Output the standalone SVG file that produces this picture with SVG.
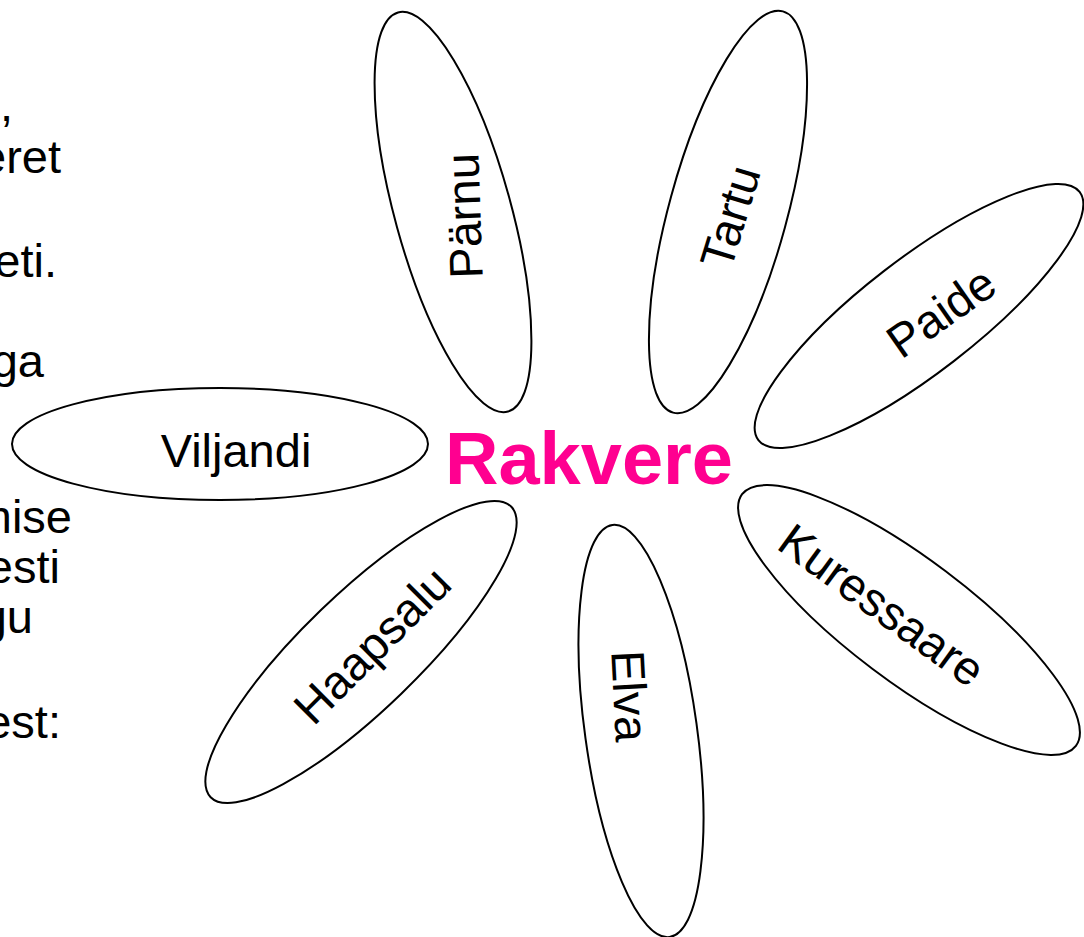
<svg xmlns="http://www.w3.org/2000/svg" width="1084" height="937" viewBox="0 0 1084 937">
<style>
  .petal { fill: #ffffff; stroke: #000000; stroke-width: 2; }
  .lbl { font-family: "Liberation Sans", Arial, sans-serif; font-size: 47px; fill: #000000; text-anchor: middle; }
  .side { font-family: "Liberation Sans", Arial, sans-serif; font-size: 47px; fill: #000000; text-anchor: end; }
  .center { font-family: "Liberation Sans", Arial, sans-serif; font-size: 74px; font-weight: bold; fill: #FF0090; text-anchor: middle; }
</style>
<rect x="0" y="0" width="1084" height="937" fill="#ffffff"/>

<g id="side-text">
  <text class="side" x="13" y="121">,</text>
  <text class="side" x="61" y="173">eret</text>
  <text class="side" x="57" y="277">eti.</text>
  <text class="side" x="44" y="377">ga</text>
  <text class="side" x="72" y="533">mise</text>
  <text class="side" x="60" y="583">esti</text>
  <text class="side" x="33" y="633">gu</text>
  <text class="side" x="61" y="738">est:</text>
</g>

<g id="node-parnu">
  <ellipse class="petal" cx="453" cy="212" rx="58" ry="207" transform="rotate(-15.4 453 212)"/>
  <text class="lbl" transform="translate(464 216) rotate(-92)" x="0" y="16.5">Pärnu</text>
</g>

<g id="node-tartu">
  <ellipse class="petal" cx="728" cy="212" rx="59" ry="208" transform="rotate(15.3 728 212)"/>
  <text class="lbl" transform="translate(730 217) rotate(-73)" x="0" y="16.5">Tartu</text>
</g>

<g id="node-paide">
  <ellipse class="petal" cx="919" cy="316" rx="203" ry="57" transform="rotate(-37.7 919 316)"/>
  <text class="lbl" transform="translate(941 312) rotate(-35)" x="0" y="16.5">Paide</text>
</g>

<g id="node-viljandi">
  <ellipse class="petal" cx="220" cy="444" rx="208" ry="56"/>
  <text class="lbl" x="236" y="467">Viljandi</text>
</g>

<g id="node-kuressaare">
  <ellipse class="petal" cx="909" cy="620" rx="209" ry="61" transform="rotate(37 909 620)"/>
  <text class="lbl" transform="translate(882 605) rotate(36)" x="0" y="16.5">Kuressaare</text>
</g>

<g id="node-haapsalu">
  <ellipse class="petal" cx="361" cy="652" rx="209" ry="58" transform="rotate(-44 361 652)"/>
  <text class="lbl" transform="translate(372 645) rotate(-45)" x="0" y="16.5">Haapsalu</text>
</g>

<g id="node-elva">
  <ellipse class="petal" cx="641" cy="731" rx="56" ry="208" transform="rotate(-7.9 641 731)"/>
  <text class="lbl" transform="translate(630 696) rotate(87)" x="0" y="16.5">Elva</text>
</g>

<g id="node-rakvere">
  <text class="center" x="589" y="484">Rakvere</text>
</g>
</svg>
